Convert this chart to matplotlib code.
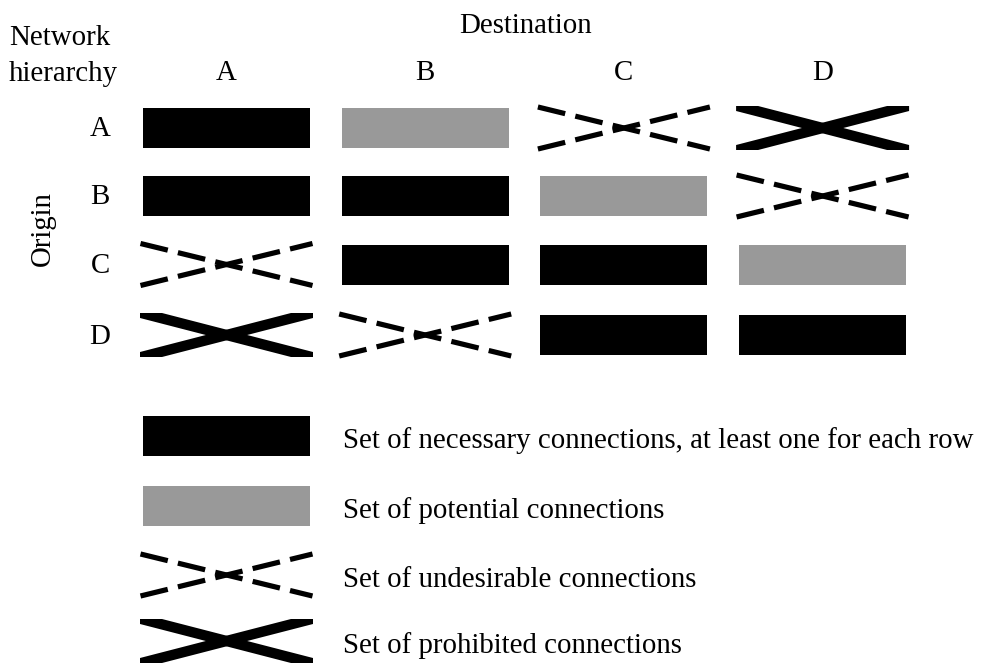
import matplotlib
matplotlib.use("Agg")
import matplotlib.pyplot as plt
from matplotlib.patches import Rectangle, Polygon

# ---- data ----
origins = ["A", "B", "C", "D"]
destinations = ["A", "B", "C", "D"]
matrix = [
    ["necessary", "potential", "undesirable", "prohibited"],
    ["necessary", "necessary", "potential", "undesirable"],
    ["undesirable", "necessary", "necessary", "potential"],
    ["prohibited", "undesirable", "necessary", "necessary"],
]
legend_types = ["necessary", "potential", "undesirable", "prohibited"]
legend_labels = [
    "Set of necessary connections, at least one for each row",
    "Set of potential connections",
    "Set of undesirable connections",
    "Set of prohibited connections",
]

# ---- layout (pixels) ----
W, H = 993, 666
col_x0, col_dx = 226.5, 198.7
row_centers = [128, 196, 264.5, 335]
legend_centers = [436, 506, 575, 641]
legend_x = 226.5
box_hw, box_hh = 83.5, 20
x_hw, x_hh = 86.5, 22
GRAY = "#999999"
FONT = "Liberation Serif"
FS = 20.8

fig = plt.figure(figsize=(W / 100, H / 100), dpi=100)
ax = fig.add_axes([0, 0, 1, 1])
ax.set_xlim(0, W)
ax.set_ylim(H, 0)
ax.axis("off")

lw_px = 5.2
lw_pt = lw_px * 72 / 100


def draw(kind, cx, cy):
    if kind in ("necessary", "potential"):
        ax.add_patch(Rectangle((cx - box_hw, cy - box_hh), 2 * box_hw, 2 * box_hh,
                               facecolor="black" if kind == "necessary" else GRAY,
                               edgecolor="none"))
    elif kind == "undesirable":
        for y1, y2 in ((cy - 21, cy + 21), (cy + 21, cy - 21)):
            ax.plot([cx - 86, cx + 86], [y1, y2], color="black", lw=lw_pt,
                    dashes=(5.4, 2.0), solid_capstyle="butt", dash_capstyle="butt")
    else:
        flat, th = 22, 5
        l, r = cx - x_hw, cx + x_hw
        t, b = cy - x_hh, cy + x_hh
        p1 = [(l, t), (l + flat, t), (r, b - th), (r, b), (r - flat, b), (l, t + th)]
        p2 = [(l, b), (l + flat, b), (r, t + th), (r, t), (r - flat, t), (l, b - th)]
        for p in (p1, p2):
            ax.add_patch(Polygon(p, closed=True, facecolor="black", edgecolor="none"))


for i, row in enumerate(matrix):
    for j, kind in enumerate(row):
        draw(kind, col_x0 + j * col_dx, row_centers[i])

for k, kind in enumerate(legend_types):
    draw(kind, legend_x, legend_centers[k])
    ax.text(343, legend_centers[k] + 12, legend_labels[k], fontsize=FS, family=FONT,
            ha="left", va="baseline")

for j, d in enumerate(destinations):
    ax.text(col_x0 + j * col_dx, 80, d, fontsize=FS, family=FONT, ha="center", va="baseline")
for i, o in enumerate(origins):
    ax.text(100, row_centers[i] + 8.5, o, fontsize=FS, family=FONT, ha="center", va="baseline")

ax.text(525.5, 33, "Destination", fontsize=FS, family=FONT, ha="center", va="baseline")
ax.text(9, 45, "Network", fontsize=FS, family=FONT, ha="left", va="baseline")
ax.text(9, 81, "hierarchy", fontsize=FS, family=FONT, ha="left", va="baseline")
ax.text(43, 229, "Origin", fontsize=FS, family=FONT, ha="center", va="center", rotation=90)

fig.savefig("out.png", dpi=100)
